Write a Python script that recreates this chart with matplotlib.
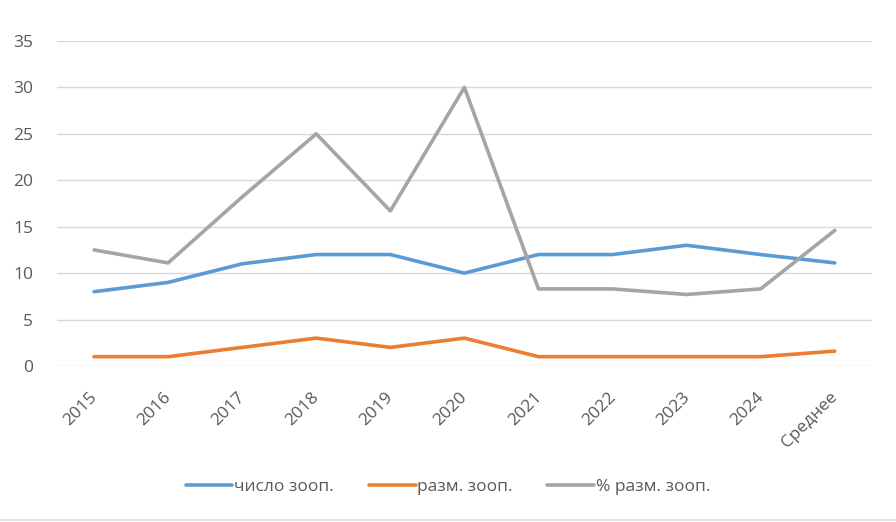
import matplotlib.pyplot as plt
from matplotlib.lines import Line2D
from matplotlib.transforms import ScaledTranslation

# Categories and series
years = ['2015', '2016', '2017', '2018', '2019', '2020',
         '2021', '2022', '2023', '2024', 'Среднее']
zoo_count = [8, 9, 11, 12, 12, 10, 12, 12, 13, 12, 11.1]
zoo_bred = [1, 1, 2, 3, 2, 3, 1, 1, 1, 1, 1.6]
zoo_bred_pct = [12.5, 11.1, 18.2, 25.0, 16.7, 30.0, 8.3, 8.3, 7.7, 8.3, 14.6]

plt.rcParams['font.family'] = ['Open Sans', 'DejaVu Sans']
text_color = '#595959'
grid_color = '#D9D9D9'

fig = plt.figure(figsize=(8.96, 5.22), dpi=100)
ax = fig.add_axes([0.0636, 0.2989, 0.9094, 0.6226])

x = range(len(years))
ax.plot(x, zoo_count, color='#5B9BD5', lw=2.6, label='число зооп.', solid_capstyle='round')
ax.plot(x, zoo_bred, color='#ED7D31', lw=2.6, label='разм. зооп.', solid_capstyle='round')
ax.plot(x, zoo_bred_pct, color='#A5A5A5', lw=2.6, label='% разм. зооп.', solid_capstyle='round')

ax.set_xlim(-0.5, len(years) - 0.5)
ax.set_ylim(0, 35)
ax.set_yticks(range(0, 36, 5))
ax.grid(axis='y', color=grid_color, lw=1)
ax.set_axisbelow(True)
for s in ax.spines.values():
    s.set_visible(False)
ax.tick_params(length=0, colors=text_color, labelsize=12.5)
ax.tick_params(axis='y', pad=17)

ax.set_xticks(list(x))
ax.set_xticklabels(years, rotation=45, ha='right', va='top', rotation_mode='anchor')
shift = ScaledTranslation(-5 / 100, -18 / 100, fig.dpi_scale_trans)
for lbl in ax.get_xticklabels():
    lbl.set_transform(lbl.get_transform() + shift)

leg = fig.legend(loc='center', bbox_to_anchor=(0.5, 1 - 487 / 522), ncol=3, frameon=False,
                 fontsize=12.5, handlelength=2.7, handletextpad=0.1, columnspacing=2.0)
for t in leg.get_texts():
    t.set_color(text_color)

# thin frame line along the bottom of the chart area
fig.add_artist(Line2D([0, 1], [0.003, 0.003], color=grid_color, lw=1.2, transform=fig.transFigure))

fig.savefig('out.png', dpi=100)
